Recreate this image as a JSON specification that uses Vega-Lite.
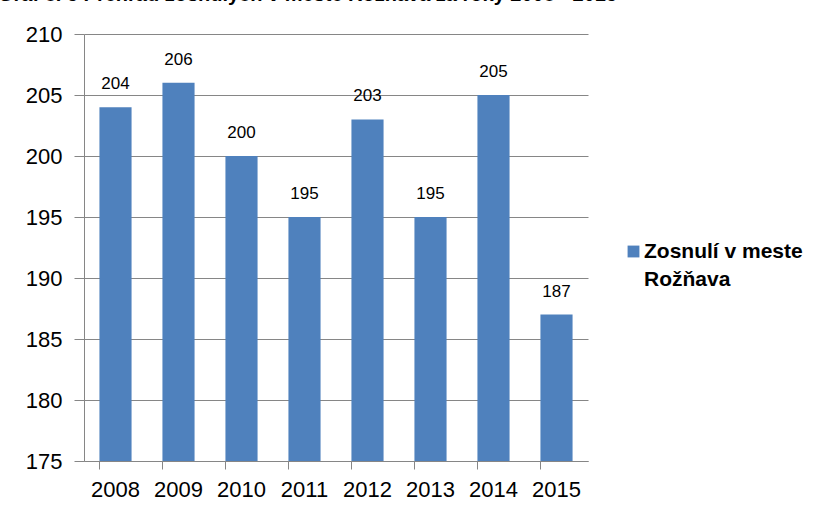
{
  "$schema": "https://vega.github.io/schema/vega-lite/v6.json",
  "autosize": "none",
  "width": 504,
  "height": 427,
  "padding": {"left": 84, "top": 34, "right": 241, "bottom": 49},
  "background": "white",
  "title": {
    "text": "Graf č. 5 Prehľad zosnulých v meste Rožňava za roky 2008 - 2015",
    "anchor": "start",
    "frame": "group",
    "dx": -86,
    "offset": 2,
    "font": "Liberation Sans",
    "fontSize": 20,
    "fontWeight": "bold",
    "color": "#000000",
    "baseline": "alphabetic"
  },
  "data": {
    "values": [
      {"rok": "2008", "pocet": 204, "seria": "Zosnulí v meste Rožňava"},
      {"rok": "2009", "pocet": 206, "seria": "Zosnulí v meste Rožňava"},
      {"rok": "2010", "pocet": 200, "seria": "Zosnulí v meste Rožňava"},
      {"rok": "2011", "pocet": 195, "seria": "Zosnulí v meste Rožňava"},
      {"rok": "2012", "pocet": 203, "seria": "Zosnulí v meste Rožňava"},
      {"rok": "2013", "pocet": 195, "seria": "Zosnulí v meste Rožňava"},
      {"rok": "2014", "pocet": 205, "seria": "Zosnulí v meste Rožňava"},
      {"rok": "2015", "pocet": 187, "seria": "Zosnulí v meste Rožňava"}
    ]
  },
  "config": {
    "view": {"stroke": null},
    "font": "Liberation Sans"
  },
  "encoding": {
    "x": {
      "field": "rok",
      "type": "nominal",
      "scale": {"paddingInner": 0.49, "paddingOuter": 0.245},
      "axis": {
        "title": null,
        "labelAngle": 0,
        "labelFontSize": 22,
        "labelColor": "#000000",
        "labelPadding": 10,
        "domainColor": "#868686",
        "tickColor": "#868686",
        "tickSize": 8,
        "bandPosition": 0,
        "grid": false
      }
    },
    "y": {
      "field": "pocet",
      "type": "quantitative",
      "scale": {"domain": [175, 210], "zero": false, "nice": false},
      "axis": {
        "title": null,
        "values": [175, 180, 185, 190, 195, 200, 205, 210],
        "labelFontSize": 22,
        "labelColor": "#000000",
        "labelPadding": 12,
        "tickSize": 10,
        "tickColor": "#868686",
        "domainColor": "#868686",
        "gridColor": "#868686",
        "gridWidth": 1
      }
    }
  },
  "layer": [
    {
      "mark": {"type": "bar", "clip": true},
      "encoding": {
        "color": {
          "field": "seria",
          "type": "nominal",
          "scale": {"range": ["#4F81BD"]},
          "legend": {
            "title": null,
            "orient": "none",
            "legendX": 539,
            "legendY": 207,
            "symbolType": "square",
            "symbolSize": 140,
            "symbolStrokeWidth": 0,
            "symbolOpacity": 1,
            "labelFontSize": 21,
            "labelFontWeight": "bold",
            "labelColor": "#000000",
            "labelOffset": 0,
            "labelLimit": 300,
            "labelExpr": "['Zosnulí v meste', 'Rožňava']",
            "encode": {"labels": {"update": {"lineHeight": {"value": 28}}}}
          }
        }
      }
    },
    {
      "mark": {"type": "text", "dy": -18, "baseline": "alphabetic", "fontSize": 17, "color": "#000000"},
      "encoding": {
        "text": {"field": "pocet", "type": "quantitative"}
      }
    }
  ]
}
